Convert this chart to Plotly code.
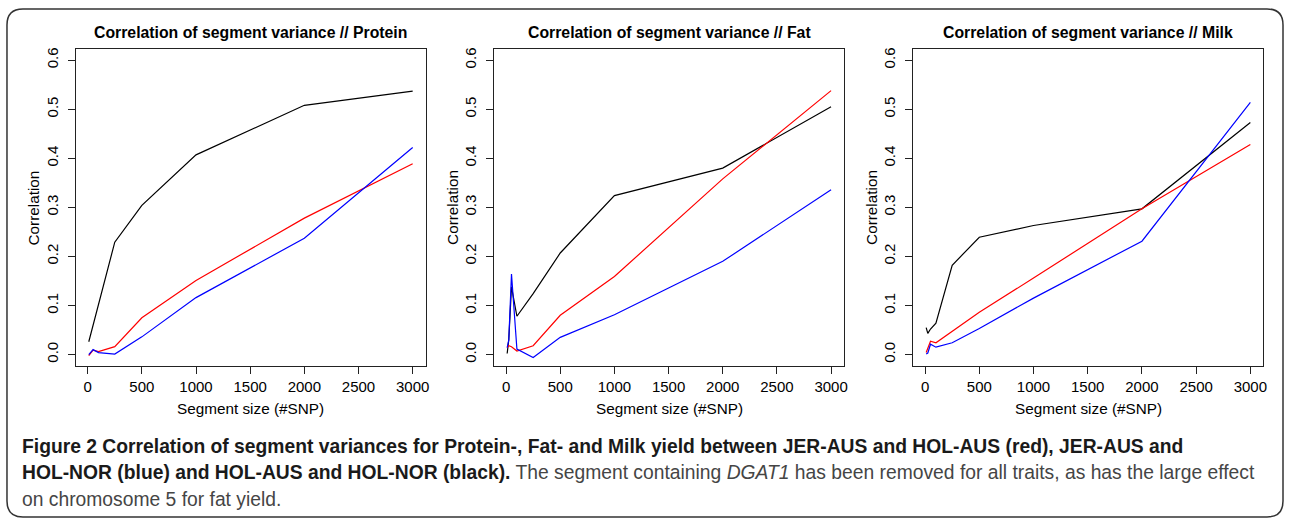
import plotly.graph_objects as go

# ---------------- data ----------------
segment_size = [10, 25, 50, 100, 250, 500, 1000, 2000, 3000]

protein_red = [-0.002, 0.003, 0.009, 0.006, 0.016, 0.075, 0.151, 0.278, 0.389]
protein_blue = [0.000, 0.004, 0.010, 0.004, 0.001, 0.036, 0.116, 0.237, 0.422]
protein_black = [0.026, 0.039, 0.060, 0.102, 0.229, 0.304, 0.407, 0.508, 0.537]

fat_red = [0.014, 0.018, 0.016, 0.007, 0.018, 0.080, 0.159, 0.358, 0.538]
fat_blue = [0.014, 0.030, 0.164, 0.011, -0.006, 0.035, 0.081, 0.190, 0.336]
fat_black = [0.002, 0.030, 0.138, 0.078, 0.124, 0.207, 0.324, 0.380, 0.505]

milk_red = [0.004, 0.013, 0.027, 0.024, 0.047, 0.086, 0.156, 0.297, 0.428]
milk_blue = [0.001, 0.003, 0.021, 0.015, 0.024, 0.053, 0.115, 0.231, 0.514]
milk_black = [0.055, 0.043, 0.052, 0.064, 0.182, 0.239, 0.263, 0.297, 0.473]

panel_titles = ["Correlation of segment variance // Protein",
                "Correlation of segment variance // Fat",
                "Correlation of segment variance // Milk"]
x_ticks = [0, 500, 1000, 1500, 2000, 2500, 3000]
y_ticks = [0.0, 0.1, 0.2, 0.3, 0.4, 0.5, 0.6]
y_ticklabels = ["0.0", "0.1", "0.2", "0.3", "0.4", "0.5", "0.6"]
x_title = "Segment size (#SNP)"
y_title = "Correlation"

caption_1 = "<b>Figure 2 Correlation of segment variances for Protein-, Fat- and Milk yield between JER-AUS and HOL-AUS (red), JER-AUS and</b>"
caption_2 = ("<b>HOL-NOR (blue) and HOL-AUS and HOL-NOR (black).</b> "
             "<span style='color:#454545'>The segment containing <i>DGAT1</i> has been removed for all traits, as has the large effect</span>")
caption_3 = "<span style='color:#454545'>on chromosome 5 for fat yield.</span>"

# ---------------- layout helpers ----------------
W, H = 1290, 520


def fx(p):
    return p / W


def fy(p):
    return 1 - p / H


AX_FONT = "Liberation Sans, Arial, Helvetica, sans-serif"
CAP_FONT = "Liberation Sans Narrow, Liberation Sans, Arial, sans-serif"

box_left = [76, 495.7, 916]
box_right = [427, 846.7, 1267.3]
box_top, box_bottom = 48, 366

panels = [
    (protein_red, protein_blue, protein_black),
    (fat_red, fat_blue, fat_black),
    (milk_red, milk_blue, milk_black),
]

fig = go.Figure()
layout = dict(
    width=W, height=H,
    margin=dict(l=0, r=0, t=0, b=0),
    paper_bgcolor="white", plot_bgcolor="white",
    showlegend=False,
)

annotations = []
for i, (red, blue, black) in enumerate(panels):
    xa = "x" if i == 0 else f"x{i+1}"
    ya = "y" if i == 0 else f"y{i+1}"
    for vals, col in ((black, "black"), (red, "#ff0000"), (blue, "#0000ff")):
        fig.add_trace(go.Scatter(x=segment_size, y=vals, mode="lines",
                                 line=dict(color=col, width=1.2),
                                 xaxis=xa, yaxis=ya, hoverinfo="x+y"))
    xkey = "xaxis" if i == 0 else f"xaxis{i+1}"
    ykey = "yaxis" if i == 0 else f"yaxis{i+1}"
    layout[xkey] = dict(
        domain=[fx(box_left[i]), fx(box_right[i])],
        anchor=ya, range=[-110, 3120],
        tickvals=x_ticks, ticks="outside", ticklen=7, tickcolor="#222",
        showline=True, mirror=True, linecolor="#222", linewidth=1,
        showgrid=False, zeroline=False,
        tickfont=dict(family=AX_FONT, size=15, color="black"),
    )
    layout[ykey] = dict(
        domain=[fy(box_bottom), fy(box_top)],
        anchor=xa, range=[-0.024, 0.623],
        tickvals=y_ticks, ticktext=y_ticklabels, tickangle=-90,
        ticks="outside", ticklen=7, tickcolor="#222", ticklabelstandoff=4,
        showline=True, mirror=True, linecolor="#222", linewidth=1,
        showgrid=False, zeroline=False,
        tickfont=dict(family=AX_FONT, size=15, color="black"),
    )
    cx = (box_left[i] + box_right[i]) / 2
    annotations.append(dict(text=f"<b>{panel_titles[i]}</b>", x=fx(cx), y=fy(32),
                            xref="paper", yref="paper", showarrow=False,
                            xanchor="center", yanchor="middle",
                            font=dict(family=AX_FONT, size=15.8, color="black")))
    annotations.append(dict(text=x_title, x=fx(cx), y=fy(408),
                            xref="paper", yref="paper", showarrow=False,
                            xanchor="center", yanchor="middle",
                            font=dict(family=AX_FONT, size=15.3, color="black")))
    annotations.append(dict(text=y_title, x=fx(box_left[i] - 42), y=fy((box_top + box_bottom) / 2),
                            xref="paper", yref="paper", showarrow=False, textangle=-90,
                            xanchor="center", yanchor="middle",
                            font=dict(family=AX_FONT, size=15.3, color="black")))

for txt, yy in ((caption_1, 446), (caption_2, 472.5), (caption_3, 499)):
    annotations.append(dict(text=txt, x=fx(20), y=fy(yy), xref="paper", yref="paper",
                            showarrow=False, xanchor="left", yanchor="middle",
                            align="left",
                            font=dict(family=CAP_FONT, size=19.3, color="#1a1a1a")))

layout["annotations"] = annotations

# rounded outer frame
x0, x1, y0, y1, r = 7, 1287, 8, 517, 16
def P(px, py):
    return f"{fx(px):.5f},{fy(py):.5f}"
path = (f"M {P(x0 + r, y0)} L {P(x1 - r, y0)} Q {P(x1, y0)} {P(x1, y0 + r)} "
        f"L {P(x1, y1 - r)} Q {P(x1, y1)} {P(x1 - r, y1)} "
        f"L {P(x0 + r, y1)} Q {P(x0, y1)} {P(x0, y1 - r)} "
        f"L {P(x0, y0 + r)} Q {P(x0, y0)} {P(x0 + r, y0)} Z")
layout["shapes"] = [dict(type="path", path=path, xref="paper", yref="paper",
                         line=dict(color="#333", width=1.5), layer="below")]

fig.update_layout(**layout)
fig.write_html("out.html", config={"displayModeBar": False},
               post_script="document.body.style.margin='0';document.body.style.overflow='hidden';")
